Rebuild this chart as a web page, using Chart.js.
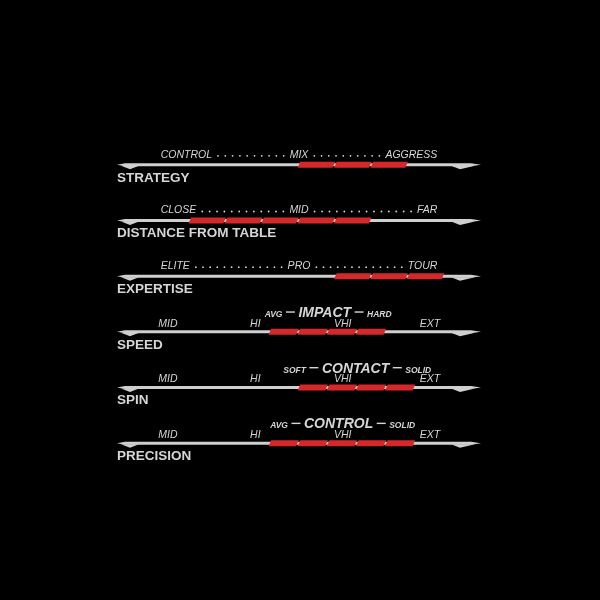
<!DOCTYPE html>
<html lang="en">
<head>
  <meta charset="UTF-8">
  <title>Player profile</title>
  <script src="https://cdn.jsdelivr.net/npm/chart.js"></script>
  <style>
    html, body { margin: 0; padding: 0; background: #000; }
    #wrap { width: 600px; height: 600px; }
  </style>
</head>
<body>
  <div id="wrap">
    <canvas id="perfil" width="600" height="600"></canvas>
  </div>

  <script>
    /* --- data --- */
    const rows          = ['STRATEGY', 'DISTANCE FROM TABLE', 'EXPERTISE', 'SPEED', 'SPIN', 'PRECISION'];
    const ratingStart   = [50, 20, 60, 42, 50, 42];
    const ratingEnd     = [80, 70, 90, 74, 82, 82];
    const segmentSize   = [10, 10, 10, 8, 8, 8];

    // three-word scales of the top rows (left / middle / right)
    const scaleWords    = [
      ['CONTROL', 'MIX', 'AGGRESS'],
      ['CLOSE', 'MID', 'FAR'],
      ['ELITE', 'PRO', 'TOUR']
    ];
    const scaleWordPos  = [12, 50, 88];

    // four-step scale of the bottom rows
    const levelLabels   = ['MID', 'HI', 'VHI', 'EXT'];
    const levelPos      = [14, 38, 62, 86];
    const headers       = [
      null, null, null,
      ['AVG', 'IMPACT', 'HARD'],
      ['SOFT', 'CONTACT', 'SOLID'],
      ['AVG', 'CONTROL', 'SOLID']
    ];

    const RED   = '#d4282a';
    const GREY  = '#cfcfcf';
    const TEXT  = '#d6d6d6';
    const FONT  = '"Liberation Sans", Arial, sans-serif';

    /* --- red segments: one dataset per segment slot --- */
    const maxSeg = Math.max(...rows.map((r, i) => Math.round((ratingEnd[i] - ratingStart[i]) / segmentSize[i])));
    const datasets = [];
    for (let k = 0; k < maxSeg; k++) {
      datasets.push({
        data: rows.map((r, i) => {
          const a = ratingStart[i] + k * segmentSize[i];
          return a < ratingEnd[i] - 0.001 ? [a, a + segmentSize[i]] : null;
        }),
        backgroundColor: RED,
        barThickness: 6,
        grouped: false
      });
    }

    /* --- plugin: background, tracks, parallelogram bars, texts --- */
    const perfilPlugin = {
      id: 'perfil',
      beforeDraw(chart) {
        const ctx = chart.ctx;
        ctx.save();
        ctx.fillStyle = '#000';
        ctx.fillRect(0, 0, chart.width, chart.height);
        ctx.restore();
      },
      beforeDatasetsDraw(chart) {
        const ctx = chart.ctx, xs = chart.scales.x, ys = chart.scales.y;
        const x0 = xs.getPixelForValue(xs.min), x1 = xs.getPixelForValue(xs.max);
        ctx.save();
        ctx.fillStyle = GREY;
        rows.forEach((r, i) => {
          const y = ys.getPixelForValue(i);
          // tapered track
          ctx.beginPath();
          ctx.moveTo(x0, y);
          ctx.lineTo(x0 + 8, y - 1.5);
          ctx.lineTo(x1 - 10, y - 1.5);
          ctx.lineTo(x1, y);
          ctx.lineTo(x1 - 10, y + 1.5);
          ctx.lineTo(x0 + 8, y + 1.5);
          ctx.closePath();
          ctx.fill();
          // little wedges under both ends
          ctx.beginPath();
          ctx.moveTo(x0 + 4, y + 1);
          ctx.lineTo(x0 + 22, y + 1);
          ctx.lineTo(x0 + 13, y + 4.5);
          ctx.closePath();
          ctx.fill();
          ctx.beginPath();
          ctx.moveTo(x1 - 30, y + 1);
          ctx.lineTo(x1 - 6, y + 1);
          ctx.lineTo(x1 - 21, y + 4.5);
          ctx.closePath();
          ctx.fill();
        });
        ctx.restore();
      },
      beforeDatasetDraw(chart, args) {
        const ctx = chart.ctx;
        const meta = args.meta;
        const values = chart.data.datasets[args.index].data;
        ctx.save();
        ctx.fillStyle = RED;
        meta.data.forEach((el, j) => {
          if (values[j] == null) return;
          const p = el.getProps(['x', 'base', 'y', 'height'], true);
          const l = Math.min(p.x, p.base), rr = Math.max(p.x, p.base);
          const t = p.y - p.height / 2, b = p.y + p.height / 2;
          const sk = 1.3, gap = 1.6;
          ctx.beginPath();
          ctx.moveTo(l - sk, b);
          ctx.lineTo(l + sk, t);
          ctx.lineTo(rr + sk - gap, t);
          ctx.lineTo(rr - sk - gap, b);
          ctx.closePath();
          ctx.fill();
        });
        ctx.restore();
        return false;
      },
      afterDatasetsDraw(chart) {
        const ctx = chart.ctx, xs = chart.scales.x, ys = chart.scales.y;
        ctx.save();
        ctx.textBaseline = 'middle';
        rows.forEach((r, i) => {
          const y = ys.getPixelForValue(i);

          // row title
          ctx.fillStyle = TEXT;
          ctx.font = 'bold 13.5px ' + FONT;
          ctx.textAlign = 'left';
          ctx.fillText(r, xs.getPixelForValue(xs.min), y + 13);

          ctx.font = 'italic 10.5px ' + FONT;
          if (scaleWords[i]) {
            const w = scaleWords[i];
            const ly = y - 10;
            const pL = xs.getPixelForValue(scaleWordPos[0]);
            const pM = xs.getPixelForValue(scaleWordPos[1]);
            const pR = xs.getPixelForValue(scaleWordPos[2]);
            ctx.textAlign = 'left';   ctx.fillText(w[0], pL, ly);
            ctx.textAlign = 'center'; ctx.fillText(w[1], pM, ly);
            ctx.textAlign = 'right';  ctx.fillText(w[2], pR, ly);
            const wL = ctx.measureText(w[0]).width;
            const wM = ctx.measureText(w[1]).width;
            const wR = ctx.measureText(w[2]).width;
            const gaps = [[pL + wL + 6, pM - wM / 2 - 6], [pM + wM / 2 + 6, pR - wR - 6]];
            gaps.forEach(([a, b]) => {
              const n = Math.floor((b - a) / 7) + 1;
              const step = (b - a) / (n - 1);
              for (let k = 0; k < n; k++) {
                ctx.beginPath();
                ctx.arc(a + k * step, ly + 1, 0.9, 0, Math.PI * 2);
                ctx.fill();
              }
            });
          } else {
            ctx.textAlign = 'center';
            levelLabels.forEach((lab, k) => {
              ctx.fillText(lab, xs.getPixelForValue(levelPos[k]), y - 8);
            });
          }

          // header above the red bar
          if (headers[i]) {
            const [s1, big, s2] = headers[i];
            const small = 'italic bold 8.5px ' + FONT;
            const large = 'italic bold 14px ' + FONT;
            ctx.font = small; const w1 = ctx.measureText(s1).width, w3 = ctx.measureText(s2).width;
            ctx.font = large; const w2 = ctx.measureText(big).width;
            const dash = 9, g = 3.5;
            const total = w1 + g + dash + g + w2 + g + dash + g + w3;
            const mid = (xs.getPixelForValue(ratingStart[i]) + xs.getPixelForValue(ratingEnd[i])) / 2;
            let x = mid - total / 2;
            const base = y - 15;
            ctx.textBaseline = 'alphabetic';
            ctx.textAlign = 'left';
            ctx.font = small; ctx.fillText(s1, x, base); x += w1 + g;
            ctx.fillRect(x, base - 5.5, dash, 1.4); x += dash + g;
            ctx.font = large; ctx.fillText(big, x, base); x += w2 + g;
            ctx.fillRect(x, base - 5.5, dash, 1.4); x += dash + g;
            ctx.font = small; ctx.fillText(s2, x, base);
            ctx.textBaseline = 'middle';
          }
        });
        ctx.restore();
      }
    };

    new Chart(document.getElementById('perfil'), {
      type: 'bar',
      data: { labels: rows, datasets },
      options: {
        indexAxis: 'y',
        responsive: false,
        animation: false,
        devicePixelRatio: 1,
        layout: { padding: { left: 117, right: 119, top: 137, bottom: 129 } },
        scales: {
          x: { type: 'linear', min: 0, max: 100, display: false },
          y: { display: false, offset: true }
        },
        plugins: { legend: { display: false }, tooltip: { enabled: false } }
      },
      plugins: [perfilPlugin]
    });
  </script>
</body>
</html>
